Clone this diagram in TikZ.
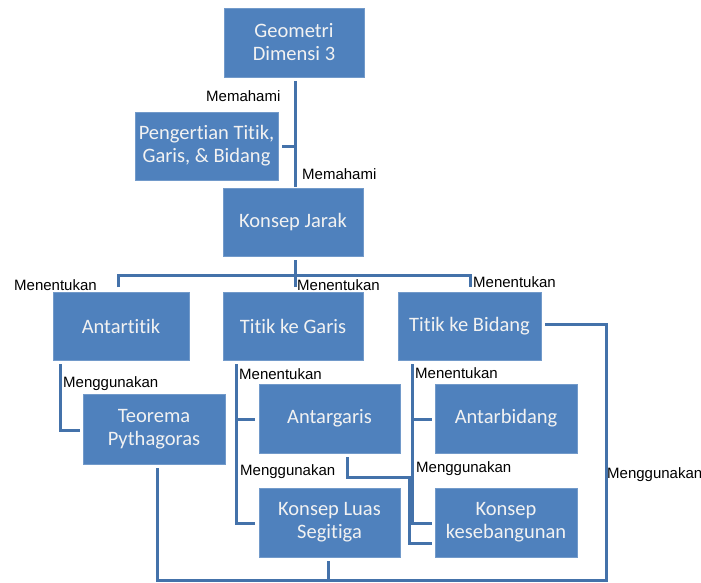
\documentclass[tikz,border=0pt]{standalone}
\usepackage{fontspec}
\setmainfont{Carlito}[Ligatures=NoCommon,RawFeature={-liga;-clig;-dlig}]
\newfontfamily\labfont{Liberation Sans}
\definecolor{boxblue}{RGB}{79,129,189}
\definecolor{linkblue}{RGB}{68,114,170}
\begin{document}
\begin{tikzpicture}[x=1pt,y=-1pt,
  box/.style={rectangle,fill=boxblue,draw=boxblue!80!white,line width=0.6pt,text=white!95!black,align=center,
    font=\fontsize{20.5}{23}\selectfont,inner sep=2pt},
  conn/.style={draw=linkblue,line width=3pt},
  lab/.style={anchor=base west,inner sep=0pt,font=\labfont\fontsize{15}{17}\selectfont,text=black}]
\useasboundingbox[fill=white] (0,0) rectangle (701,583);
% boxes
\node[box,minimum width=140pt,minimum height=69pt] (geo) at (294,42.5) {Geometri\\Dimensi 3};
\node[box,minimum width=143pt,minimum height=68pt] (peng) at (206.5,146) {Pengertian Titik,\\Garis, \& Bidang};
\node[box,minimum width=140pt,minimum height=68pt] (kj) at (293,222) {Konsep Jarak};
\node[box,minimum width=136pt,minimum height=68pt] (at) at (121,326) {Antartitik};
\node[box,minimum width=140pt,minimum height=68pt] (tkg) at (293,326) {Titik ke Garis};
\node[box,minimum width=143pt,minimum height=68pt] (tkb) at (469.5,326) {Titik ke Bidang};
\node[box,minimum width=142pt,minimum height=70pt] (teo) at (154,429) {Teorema\\Pythagoras};
\node[box,minimum width=141pt,minimum height=69pt] (ag) at (329.5,418.5) {Antargaris};
\node[box,minimum width=142pt,minimum height=69pt] (ab) at (506,418.5) {Antarbidang};
\node[box,minimum width=141pt,minimum height=69pt] (kls) at (329.5,522.5) {Konsep Luas\\Segitiga};
\node[box,minimum width=142pt,minimum height=69pt] (kes) at (506,522.5) {Konsep\\kesebangunan};
% connector coordinates
\coordinate (g1) at (295,81);
\coordinate (g2) at (295,187);
\coordinate (p1) at (282,146);
\coordinate (p2) at (295,146);
\coordinate (k1) at (295,260);
\coordinate (k2) at (295,287);
\coordinate (h1) at (118,287);
\coordinate (h2) at (470,287);
\coordinate (a1) at (60,364);
\coordinate (a2) at (80,430);
\coordinate (t1) at (236,364);
\coordinate (t2) at (255,419);
\coordinate (t3) at (255,523);
\coordinate (b1) at (412,364);
\coordinate (b2) at (432,419);
\coordinate (b3) at (432,523);
\coordinate (c1) at (347,457);
\coordinate (c2) at (432,543);
\coordinate (r1) at (545,324);
\coordinate (r2) at (157,468);
\coordinate (r3) at (328,561);
\coordinate (bot) at (606,580);
% connectors
\draw[conn] (g1) -- (g2);
\draw[conn] (p1) -- (p2);
\draw[conn] (k1) -- (k2);
\draw[conn] (h1) |- (295,275) -| (h2);
\draw[conn] (a1) |- (a2);
\draw[conn] (t1) |- (t3);
\draw[conn] (t1 |- t2) -- (t2);
\draw[conn] (b1) |- (b3);
\draw[conn] (b1 |- b2) -- (b2);
\draw[conn] (c1) |- (409,477) |- (c2);
\draw[conn] (r1) -| (bot) -| (r2);
\draw[conn] (r3) -- (r3 |- bot);
% labels
\node[lab] (m1) at (206,102) {Memahami};
\node[lab] (m2) at (302,179) {Memahami};
\node[lab] (n1) at (14,290) {Menentukan};
\node[lab] (n2) at (297,290) {Menentukan};
\node[lab] (n3) at (473,287) {Menentukan};
\node[lab] (u1) at (63,387) {Menggunakan};
\node[lab] (n4) at (239,379) {Menentukan};
\node[lab] (u2) at (240,475) {Menggunakan};
\node[lab] (n5) at (415,378) {Menentukan};
\node[lab] (u3) at (416,472) {Menggunakan};
\node[lab] (u4) at (607,478) {Menggunakan};
\end{tikzpicture}
\end{document}
